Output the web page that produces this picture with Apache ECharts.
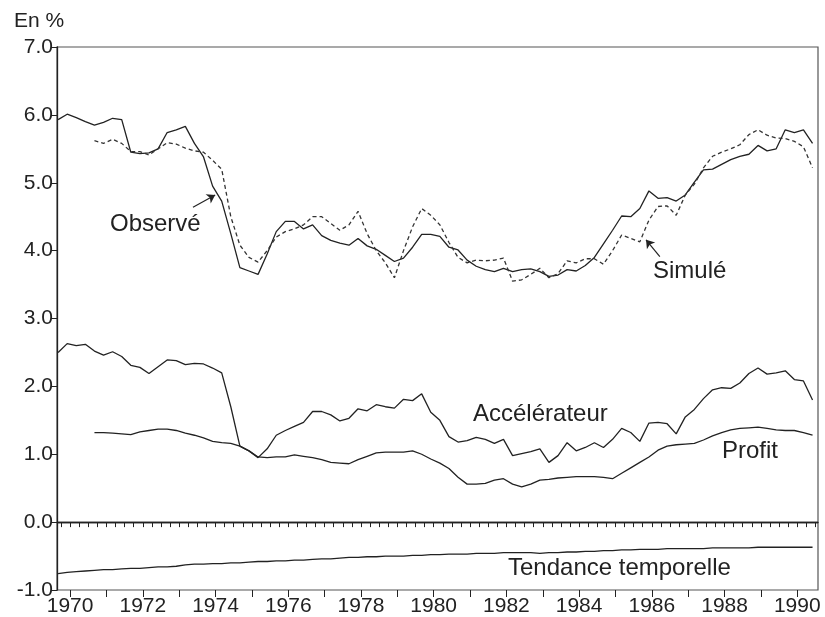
<!DOCTYPE html>
<html>
<head>
<meta charset="utf-8">
<title>Observé / Simulé</title>
<script src="https://cdn.jsdelivr.net/npm/echarts@6/dist/echarts.min.js"></script>
<style>
  html, body { margin: 0; padding: 0; background: #fff; }
  #chart { width: 825px; height: 617px; }
</style>
</head>
<body>
<div id="chart"></div>
<script>
// trimestres : premier point en 1970 T1, 84 trimestres jusqu'en 1990 T4
const firstQuarter = 1969.67
const nQuarters = 84
const yearLabels = [1970, 1972, 1974, 1976, 1978, 1980, 1982, 1984, 1986, 1988, 1990]

// valeurs (en %)
const observe = [
  5.93, 6.01, 5.96, 5.90, 5.85, 5.89, 5.95, 5.93, 5.45, 5.43,
  5.44, 5.50, 5.74, 5.78, 5.83, 5.58, 5.38, 4.95, 4.73, 4.25,
  3.75, 3.70, 3.65, 3.95, 4.28, 4.43, 4.43, 4.32, 4.38, 4.22,
  4.15, 4.11, 4.08, 4.18, 4.07, 4.02, 3.93, 3.84, 3.89, 4.05,
  4.24, 4.24, 4.21, 4.05, 4.01, 3.86, 3.77, 3.72, 3.69, 3.74,
  3.69, 3.72, 3.73, 3.69, 3.62, 3.64, 3.72, 3.70, 3.78, 3.90,
  4.10, 4.30, 4.51, 4.50, 4.62, 4.88, 4.77, 4.78, 4.73, 4.82,
  5.01, 5.19, 5.20, 5.27, 5.34, 5.39, 5.42, 5.55, 5.47, 5.50,
  5.78, 5.74, 5.78, 5.58
]
const simule = [
  null, null, null, null, 5.62, 5.58, 5.64, 5.58, 5.46, 5.46,
  5.41, 5.50, 5.59, 5.57, 5.51, 5.47, 5.45, 5.33, 5.20, 4.50,
  4.08, 3.90, 3.83, 4.00, 4.20, 4.28, 4.32, 4.38, 4.50, 4.50,
  4.40, 4.30, 4.38, 4.58, 4.25, 4.00, 3.82, 3.60, 4.00, 4.35,
  4.62, 4.52, 4.38, 4.12, 3.90, 3.82, 3.86, 3.85, 3.86, 3.89,
  3.55, 3.57, 3.65, 3.74, 3.60, 3.66, 3.85, 3.82, 3.88, 3.88,
  3.80, 4.00, 4.23, 4.18, 4.13, 4.45, 4.65, 4.66, 4.52, 4.82,
  4.98, 5.22, 5.39, 5.45, 5.50, 5.56, 5.71, 5.78, 5.70, 5.66,
  5.65, 5.61, 5.53, 5.22
]
const accelerateur = [
  2.50, 2.63, 2.60, 2.62, 2.52, 2.46, 2.51, 2.44, 2.31, 2.28,
  2.19, 2.29, 2.39, 2.38, 2.32, 2.34, 2.33, 2.27, 2.20, 1.70,
  1.12, 1.05, 0.95, 1.08, 1.28, 1.35, 1.41, 1.47, 1.63, 1.63,
  1.58, 1.49, 1.53, 1.67, 1.64, 1.73, 1.70, 1.68, 1.81, 1.79,
  1.89, 1.62, 1.50, 1.26, 1.18, 1.20, 1.25, 1.22, 1.16, 1.22,
  0.98, 1.01, 1.04, 1.08, 0.88, 0.98, 1.17, 1.05, 1.10, 1.17,
  1.10, 1.22, 1.38, 1.32, 1.19, 1.46, 1.47, 1.45, 1.30, 1.55,
  1.66, 1.82, 1.95, 1.98, 1.97, 2.05, 2.19, 2.27, 2.18, 2.20,
  2.23, 2.10, 2.08, 1.80
]
const profit = [
  null, null, null, null, 1.32, 1.32, 1.31, 1.30, 1.29, 1.33,
  1.35, 1.37, 1.37, 1.35, 1.31, 1.28, 1.24, 1.19, 1.17, 1.16,
  1.12, 1.05, 0.96, 0.95, 0.96, 0.96, 0.99, 0.97, 0.95, 0.92,
  0.88, 0.87, 0.86, 0.92, 0.97, 1.02, 1.03, 1.03, 1.03, 1.05,
  1.00, 0.93, 0.87, 0.79, 0.66, 0.56, 0.56, 0.57, 0.62, 0.64,
  0.56, 0.52, 0.56, 0.62, 0.63, 0.65, 0.66, 0.67, 0.67, 0.67,
  0.66, 0.64, 0.72, 0.80, 0.88, 0.96, 1.06, 1.12, 1.14, 1.15,
  1.16, 1.21, 1.27, 1.32, 1.36, 1.38, 1.39, 1.40, 1.38, 1.36,
  1.35, 1.35, 1.32, 1.28
]
const tendance = [
  -0.76, -0.74, -0.73, -0.72, -0.71, -0.70, -0.70, -0.69, -0.68, -0.68,
  -0.67, -0.66, -0.66, -0.65, -0.63, -0.62, -0.62, -0.61, -0.61, -0.60,
  -0.60, -0.59, -0.58, -0.58, -0.57, -0.57, -0.56, -0.56, -0.55, -0.54,
  -0.54, -0.53, -0.52, -0.52, -0.51, -0.51, -0.50, -0.50, -0.50, -0.49,
  -0.49, -0.48, -0.48, -0.47, -0.47, -0.47, -0.46, -0.46, -0.46, -0.45,
  -0.45, -0.45, -0.45, -0.46, -0.45, -0.45, -0.44, -0.44, -0.43, -0.43,
  -0.42, -0.42, -0.41, -0.41, -0.40, -0.40, -0.40, -0.39, -0.39, -0.39,
  -0.39, -0.39, -0.38, -0.38, -0.38, -0.38, -0.38, -0.37, -0.37, -0.37,
  -0.37, -0.37, -0.37, -0.37
]

const quarters = []
for (let i = 0; i < nQuarters; i++) quarters.push(+(firstQuarter + i * 0.25).toFixed(3))
const quarterTicks = []
for (let y = 1969.75; y <= 1990.5; y += 0.25) quarterTicks.push(y)
const yearTicks = []
for (let y = 1970; y <= 1990; y++) yearTicks.push(y)

const pairs = (vals) => quarters.map((q, i) => [q, vals[i]])

const ink = '#222'
const font = 'Liberation Sans, Arial, Helvetica, sans-serif'

const chart = echarts.init(document.getElementById('chart'), null, { renderer: 'canvas' })

const lineSeries = (name, vals, extra) => Object.assign({
  name: name,
  type: 'line',
  data: pairs(vals),
  showSymbol: false,
  symbol: 'none',
  connectNulls: false,
  lineStyle: { color: ink, width: 1.3 },
  animation: false,
  z: 3
}, extra || {})

const option = {
  animation: false,
  backgroundColor: '#fff',
  grid: {
    left: 57, right: 7, top: 47, bottom: 27,
    show: true, borderColor: '#555', borderWidth: 1.2
  },
  xAxis: [
    {
      type: 'value',
      min: 1969.64,
      max: 1990.57,
      splitLine: { show: false },
      axisLine: { show: true, lineStyle: { color: ink, width: 1.3 } },
      axisTick: { show: true, inside: false, length: 5, customValues: quarterTicks, lineStyle: { color: ink } },
      axisLabel: {
        customValues: yearLabels,
        margin: 6,
        color: ink,
        fontSize: 21,
        fontFamily: font,
        formatter: (v) => String(v)
      }
    },
    {
      type: 'value',
      min: 1969.64,
      max: 1990.57,
      position: 'bottom',
      splitLine: { show: false },
      axisLine: { show: false },
      axisTick: { show: true, length: 7, customValues: yearTicks, lineStyle: { color: ink } },
      axisLabel: { show: false }
    }
  ],
  yAxis: {
    type: 'value',
    min: -1,
    max: 7,
    interval: 1,
    splitLine: { show: false },
    axisLine: { show: true, lineStyle: { color: ink, width: 1.3 } },
    axisTick: { show: true, length: 6, lineStyle: { color: ink } },
    axisLabel: {
      margin: 4,
      color: ink,
      fontSize: 21,
      fontFamily: font,
      formatter: (v) => v.toFixed(1)
    }
  },
  series: [
    lineSeries('Observé', observe, {
      markLine: {
        silent: true,
        symbol: ['none', 'arrow'],
        symbolSize: 8,
        label: { show: false },
        lineStyle: { color: ink, width: 1.2, type: 'solid' },
        data: [
          [{ coord: [1973.38, 4.64] }, { coord: [1973.99, 4.82] }],
          [{ coord: [1986.22, 3.91] }, { coord: [1985.84, 4.16] }]
        ]
      }
    }),
    lineSeries('Simulé', simule, {
      lineStyle: { color: '#333', width: 1.3, type: [4, 3] }
    }),
    lineSeries('Accélérateur', accelerateur),
    lineSeries('Profit', profit),
    lineSeries('Tendance temporelle', tendance, {
      markLine: {
        silent: true,
        symbol: ['none', 'none'],
        label: { show: false },
        lineStyle: { color: ink, width: 1.3, type: 'solid' },
        data: [{ yAxis: 0 }]
      }
    })
  ],
  graphic: [
    { type: 'text', left: 14, top: 11, style: { text: 'En %', fill: ink, fontSize: 21, fontFamily: font } },
    { type: 'text', left: 110, top: 212, style: { text: 'Observé', fill: ink, fontSize: 24, fontFamily: font } },
    { type: 'text', left: 653, top: 259, style: { text: 'Simulé', fill: ink, fontSize: 24, fontFamily: font } },
    { type: 'text', left: 473, top: 402, style: { text: 'Accélérateur', fill: ink, fontSize: 24, fontFamily: font } },
    { type: 'text', left: 722, top: 439, style: { text: 'Profit', fill: ink, fontSize: 24, fontFamily: font } },
    { type: 'text', left: 508, top: 556, style: { text: 'Tendance temporelle', fill: ink, fontSize: 24, fontFamily: font } }
  ]
}

chart.setOption(option)
</script>
</body>
</html>
